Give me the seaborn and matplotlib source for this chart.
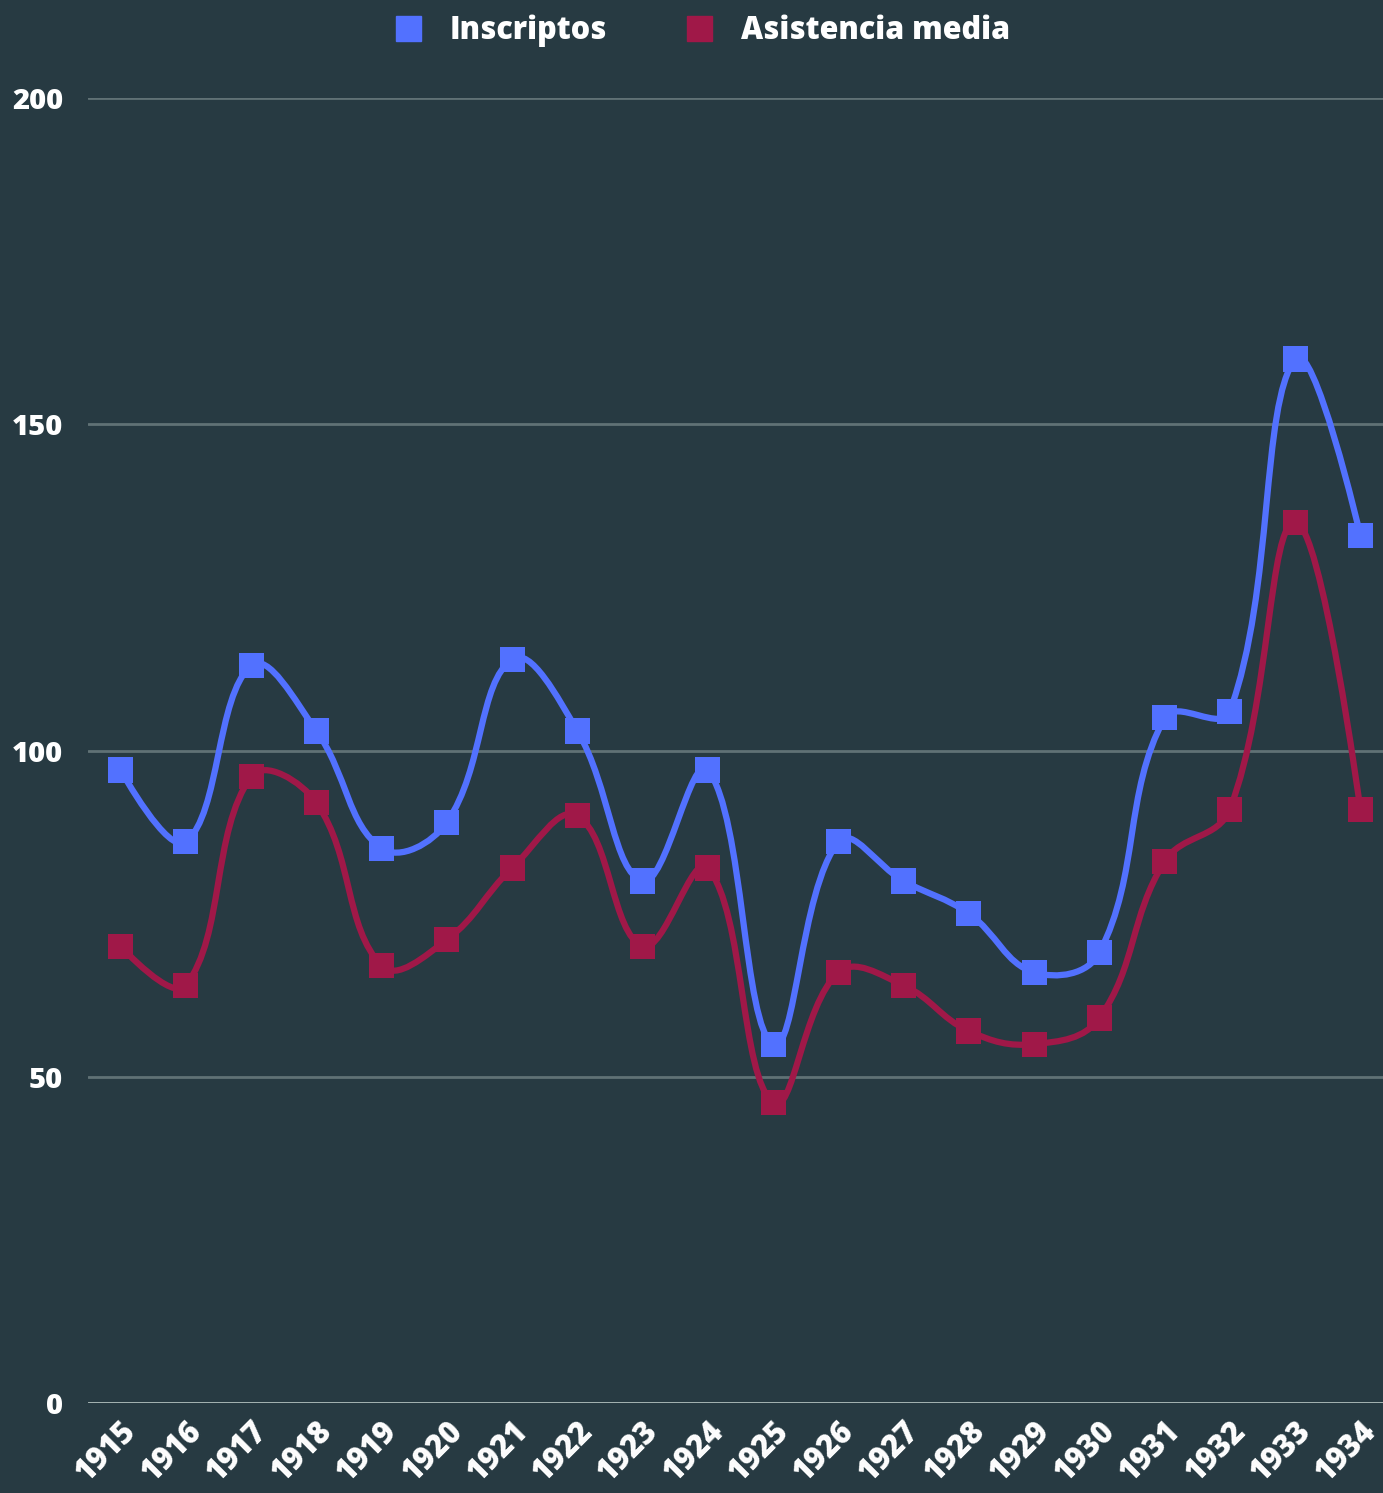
import numpy as np
import pandas as pd
import seaborn as sns
import matplotlib.pyplot as plt
from matplotlib.path import Path
from matplotlib.patches import PathPatch
from matplotlib.lines import Line2D

# ---- data ----
years = [str(y) for y in range(1915, 1935)]
inscriptos = [97, 86, 113, 103, 85, 89, 114, 103, 80, 97,
              55, 86, 80, 75, 66, 69, 105, 106, 160, 133]
asistencia = [70, 64, 96, 92, 67, 71, 82, 90, 70, 82,
              46, 66, 64, 57, 55, 59, 83, 91, 135, 91]
yticks = [0, 50, 100, 150, 200]

bg = '#273a42'
blue = '#5271ff'
red = '#a01848'

df = pd.DataFrame({'Año': years * 2,
                   'Valor': inscriptos + asistencia,
                   'Serie': ['Inscriptos'] * len(years) + ['Asistencia media'] * len(years)})

sns.set_style('dark')
plt.rcParams['font.family'] = ['Open Sans', 'DejaVu Sans']

fig = plt.figure(figsize=(13.83, 14.93), dpi=100, facecolor=bg)
ax = fig.add_axes([88 / 1383, 1 - 1403 / 1493, 1305 / 1383, 1305 / 1493])
ax.set_facecolor(bg)
ax.set_xlim(-0.5, len(years) - 0.5)
ax.set_ylim(0, 200)

# pixel size of one data unit, so the smoothing follows screen distances
sx = 1305 / len(years)
sy = 1305 / 200


def smooth_path(vals, t=0.4):
    # spline where control lengths depend on neighbour segment lengths
    x = np.arange(len(vals), dtype=float)
    y = np.asarray(vals, dtype=float)
    n = len(x)
    cin = [(x[0], y[0])] * n
    cout = [(x[-1], y[-1])] * n
    for i in range(1, n - 1):
        d01 = np.hypot((x[i] - x[i - 1]) * sx, (y[i] - y[i - 1]) * sy)
        d12 = np.hypot((x[i + 1] - x[i]) * sx, (y[i + 1] - y[i]) * sy)
        fa = t * d01 / (d01 + d12)
        fb = t * d12 / (d01 + d12)
        dx = x[i + 1] - x[i - 1]
        dy = y[i + 1] - y[i - 1]
        cin[i] = (x[i] - fa * dx, y[i] - fa * dy)
        cout[i] = (x[i] + fb * dx, y[i] + fb * dy)
    cout[0] = (x[0], y[0])
    cin[-1] = (x[-1], y[-1])
    verts = [(x[0], y[0])]
    codes = [Path.MOVETO]
    for i in range(n - 1):
        verts += [cout[i], cin[i + 1], (x[i + 1], y[i + 1])]
        codes += [Path.CURVE4] * 3
    return Path(verts, codes)


for vals, col in [(inscriptos, blue), (asistencia, red)]:
    ax.add_patch(PathPatch(smooth_path(vals), facecolor='none', edgecolor=col,
                           lw=4.5, capstyle='round', joinstyle='round', zorder=3))

sns.scatterplot(data=df, x='Año', y='Valor', hue='Serie', palette=[blue, red],
                marker='s', s=330, linewidth=0, legend=False, ax=ax, zorder=4)

ax.set_xlim(-0.5, len(years) - 0.5)
ax.set_ylim(0, 200)
ax.set_yticks(yticks)
ax.set_yticklabels([str(v) for v in yticks], fontsize=21, fontweight='heavy', color='white')
ax.set_xticks(range(len(years)))
ax.set_xticklabels(years, rotation=45, ha='right', rotation_mode='anchor',
                   fontsize=22, fontweight='heavy', color='white')
ax.tick_params(axis='both', length=0)
ax.tick_params(axis='y', pad=18)
ax.tick_params(axis='x', pad=9)
ax.grid(False)
for v in yticks:
    ax.axhline(v, color='#b0bfbd' if v == 0 else '#607175', lw=2, zorder=1)
for s in ax.spines.values():
    s.set_visible(False)
ax.set_xlabel('')
ax.set_ylabel('')

handles = [Line2D([], [], marker='s', linestyle='', color=blue, markersize=18),
           Line2D([], [], marker='s', linestyle='', color=red, markersize=18)]
fig.legend(handles, ['Inscriptos', 'Asistencia media'], loc='upper center',
           bbox_to_anchor=(0.506, 1.009), ncol=2, frameon=False, columnspacing=2.4,
           handletextpad=0.77, handlelength=1.2, prop={'size': 22, 'weight': 'heavy'},
           labelcolor='white')

fig.savefig('out.png', dpi=100, facecolor=bg)
